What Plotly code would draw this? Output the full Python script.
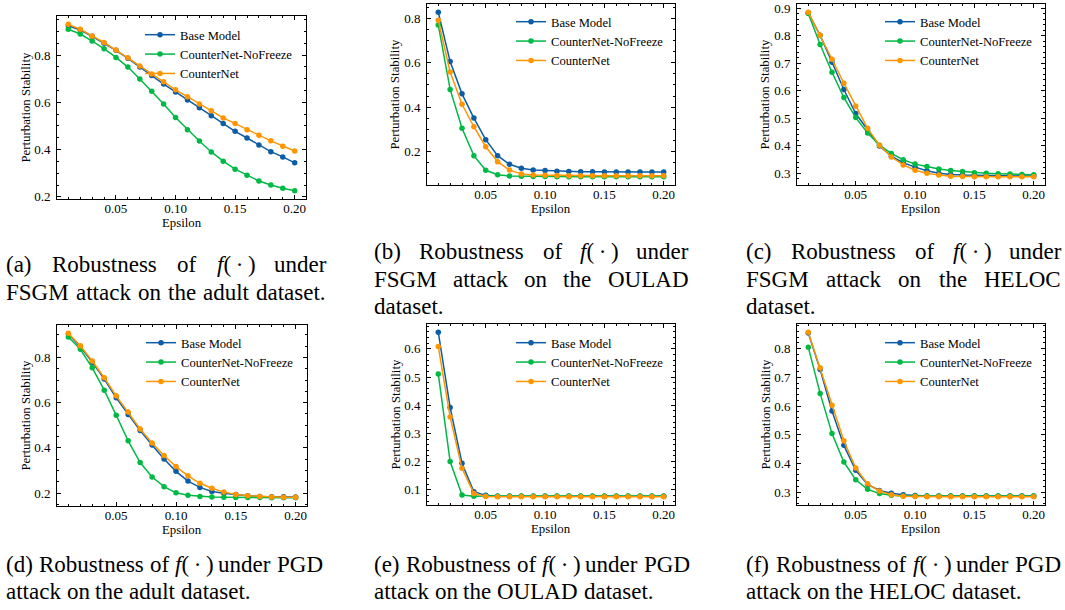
import plotly.graph_objects as go

W, H = 1065, 610

eps = [0.01, 0.02, 0.03, 0.04, 0.05, 0.06, 0.07, 0.08, 0.09, 0.10,
       0.11, 0.12, 0.13, 0.14, 0.15, 0.16, 0.17, 0.18, 0.19, 0.20]
series_names = ["Base Model", "CounterNet-NoFreeze", "CounterNet"]
colors = ["#0C5DA5", "#00B945", "#FF9500"]

# (a) FSGM, adult
a_base = [0.924, 0.906, 0.879, 0.850, 0.820, 0.786, 0.749, 0.713, 0.677, 0.644,
          0.610, 0.577, 0.543, 0.510, 0.477, 0.449, 0.419, 0.391, 0.369, 0.344]
a_nofreeze = [0.909, 0.889, 0.859, 0.827, 0.790, 0.749, 0.699, 0.647, 0.593, 0.536,
              0.484, 0.436, 0.390, 0.351, 0.317, 0.291, 0.267, 0.250, 0.236, 0.226]
a_cnet = [0.930, 0.909, 0.881, 0.853, 0.821, 0.789, 0.754, 0.720, 0.687, 0.653,
          0.624, 0.593, 0.564, 0.534, 0.510, 0.484, 0.461, 0.437, 0.414, 0.394]
# (b) FSGM, OULAD
b_base = [0.827, 0.605, 0.460, 0.351, 0.254, 0.182, 0.143, 0.125, 0.117, 0.115,
          0.112, 0.111, 0.110, 0.110, 0.109, 0.109, 0.109, 0.108, 0.108, 0.108]
b_nofreeze = [0.770, 0.480, 0.305, 0.182, 0.116, 0.096, 0.090, 0.089, 0.088, 0.088,
              0.087, 0.087, 0.087, 0.087, 0.087, 0.087, 0.087, 0.087, 0.087, 0.087]
b_cnet = [0.791, 0.558, 0.413, 0.312, 0.222, 0.155, 0.117, 0.100, 0.095, 0.094,
          0.093, 0.092, 0.092, 0.092, 0.092, 0.092, 0.092, 0.092, 0.092, 0.092]
# (c) FSGM, HELOC
c_base = [0.883, 0.801, 0.703, 0.604, 0.517, 0.457, 0.399, 0.362, 0.338, 0.322,
          0.309, 0.300, 0.295, 0.293, 0.292, 0.291, 0.290, 0.290, 0.290, 0.290]
c_nofreeze = [0.880, 0.768, 0.667, 0.575, 0.502, 0.446, 0.402, 0.372, 0.349, 0.333,
              0.324, 0.315, 0.310, 0.306, 0.302, 0.300, 0.298, 0.297, 0.295, 0.294]
c_cnet = [0.885, 0.801, 0.714, 0.627, 0.543, 0.463, 0.402, 0.359, 0.330, 0.311,
          0.300, 0.293, 0.289, 0.288, 0.287, 0.287, 0.287, 0.287, 0.287, 0.287]
# (d) PGD, adult
d_base = [0.904, 0.847, 0.779, 0.704, 0.621, 0.547, 0.477, 0.412, 0.351, 0.296,
          0.253, 0.225, 0.207, 0.199, 0.193, 0.188, 0.185, 0.184, 0.183, 0.182]
d_nofreeze = [0.890, 0.836, 0.754, 0.655, 0.544, 0.431, 0.335, 0.271, 0.228, 0.201,
              0.190, 0.185, 0.182, 0.181, 0.180, 0.180, 0.180, 0.179, 0.179, 0.179]
d_cnet = [0.907, 0.852, 0.784, 0.710, 0.630, 0.558, 0.483, 0.421, 0.366, 0.317,
          0.276, 0.243, 0.221, 0.204, 0.194, 0.188, 0.185, 0.182, 0.181, 0.181]
# (e) PGD, OULAD
e_base = [0.659, 0.392, 0.194, 0.093, 0.080, 0.077, 0.077, 0.077, 0.077, 0.077,
          0.077, 0.077, 0.077, 0.077, 0.077, 0.077, 0.077, 0.077, 0.077, 0.077]
e_nofreeze = [0.511, 0.200, 0.081, 0.077, 0.078, 0.078, 0.078, 0.078, 0.078, 0.078,
              0.078, 0.078, 0.078, 0.078, 0.078, 0.078, 0.078, 0.078, 0.078, 0.078]
e_cnet = [0.608, 0.358, 0.176, 0.087, 0.076, 0.075, 0.075, 0.075, 0.075, 0.075,
          0.075, 0.075, 0.075, 0.075, 0.075, 0.075, 0.075, 0.075, 0.075, 0.075]
# (f) PGD, HELOC
f_base = [0.854, 0.727, 0.583, 0.463, 0.376, 0.327, 0.306, 0.296, 0.291, 0.288,
          0.287, 0.287, 0.287, 0.287, 0.287, 0.287, 0.287, 0.287, 0.287, 0.287]
f_nofreeze = [0.805, 0.644, 0.504, 0.405, 0.343, 0.310, 0.295, 0.289, 0.287, 0.287,
              0.287, 0.287, 0.287, 0.287, 0.287, 0.287, 0.287, 0.287, 0.287, 0.287]
f_cnet = [0.857, 0.733, 0.603, 0.479, 0.384, 0.329, 0.304, 0.291, 0.286, 0.285,
          0.284, 0.284, 0.284, 0.284, 0.284, 0.284, 0.284, 0.284, 0.284, 0.284]

x_title = "Epsilon"
y_title = "Perturbation Stability"
x_ticks = [0.05, 0.10, 0.15, 0.20]

FONT = "Liberation Serif"

# panel layout in pixels: (left, right, top, bottom), y major step, y minor step,
# legend line start x / first-row y
panels = [
    dict(data=[a_base, a_nofreeze, a_cnet], box=(57, 306, 16, 199), dy=0.2, my=0.05, leg=(145, 33)),
    dict(data=[b_base, b_nofreeze, b_cnet], box=(427, 675, 4, 185), dy=0.2, my=0.05, leg=(516, 20)),
    dict(data=[c_base, c_nofreeze, c_cnet], box=(797, 1045, 4, 185), dy=0.1, my=0.02, leg=(885, 20)),
    dict(data=[d_base, d_nofreeze, d_cnet], box=(57, 307, 325, 506), dy=0.2, my=0.05, leg=(146, 341)),
    dict(data=[e_base, e_nofreeze, e_cnet], box=(427, 675, 324, 505), dy=0.1, my=0.02, leg=(516, 341)),
    dict(data=[f_base, f_nofreeze, f_cnet], box=(797, 1045, 324, 505), dy=0.1, my=0.02, leg=(885, 341)),
]

fig = go.Figure()
annotations = []

xmin, xmax = min(eps), max(eps)
xpad = 0.05 * (xmax - xmin)

for i, p in enumerate(panels):
    n = i + 1
    sfx = "" if n == 1 else str(n)
    legname = "legend" if n == 1 else f"legend{n}"
    l, r, t, b = p["box"]
    allv = [v for s in p["data"] for v in s]
    ymin, ymax = min(allv), max(allv)
    ypad = 0.05 * (ymax - ymin)
    for name, col, vals in zip(series_names, colors, p["data"]):
        fig.add_trace(go.Scatter(
            x=eps, y=vals, name=name, mode="lines+markers",
            line=dict(color=col, width=1.5),
            marker=dict(color=col, size=5.5, symbol="circle"),
            xaxis="x" + sfx, yaxis="y" + sfx, legend=legname,
        ))
    common = dict(
        showgrid=False, zeroline=False, showline=True, linecolor="black", linewidth=0.9,
        mirror="allticks", ticks="inside", ticklen=4.5, tickwidth=0.8, tickcolor="black",
        tickfont=dict(family=FONT, size=13, color="black"), automargin=False,
    )
    fig.update_layout({
        "xaxis" + sfx: dict(
            common, domain=[l / W, r / W], anchor="y" + sfx,
            range=[xmin - xpad, xmax + xpad], tickvals=x_ticks, tickformat=".2f",
            minor=dict(ticks="inside", ticklen=2.5, tickwidth=0.7, tickcolor="black",
                       dtick=0.01, tick0=0, showgrid=False),
            ticklabelstandoff=-3,
        ),
        "yaxis" + sfx: dict(
            common, domain=[1 - b / H, 1 - t / H], anchor="x" + sfx,
            range=[ymin - ypad, ymax + ypad], dtick=p["dy"], tick0=0, tickformat=".1f",
            minor=dict(ticks="inside", ticklen=2.5, tickwidth=0.7, tickcolor="black",
                       dtick=p["my"], tick0=0, showgrid=False),
            ticklabelstandoff=3,
        ),
        legname: dict(
            x=(p["leg"][0] - 5) / W, y=1 - (p["leg"][1] - 13) / H,
            xanchor="left", yanchor="top", bgcolor="rgba(0,0,0,0)",
            font=dict(family=FONT, size=12.6, color="black"),
            tracegroupgap=0, itemwidth=30,
        ),
    })
    # axis titles
    annotations.append(dict(
        text=x_title, x=(l + r) / 2 / W, y=1 - (b + 24) / H, xref="paper", yref="paper",
        xanchor="center", yanchor="middle", showarrow=False,
        font=dict(family=FONT, size=12.8, color="black")))
    annotations.append(dict(
        text=y_title, x=(l - 32) / W, y=1 - (t + b) / 2 / H, xref="paper", yref="paper",
        xanchor="center", yanchor="middle", showarrow=False, textangle=-90,
        font=dict(family=FONT, size=12.8, color="black")))

# ---- captions (justified lines built from words) ----
CW = {' ': 250, '(': 333, ')': 333, '.': 250, '-': 333, '·': 250,
      'a': 444, 'b': 500, 'c': 444, 'd': 500, 'e': 444, 'f': 333, 'g': 500, 'h': 500,
      'i': 278, 'j': 278, 'k': 500, 'l': 278, 'm': 778, 'n': 500, 'o': 500, 'p': 500,
      'q': 500, 'r': 333, 's': 389, 't': 278, 'u': 500, 'v': 500, 'w': 722, 'x': 500,
      'y': 500, 'z': 444, 'A': 722, 'B': 667, 'C': 667, 'D': 722, 'E': 611, 'F': 556,
      'G': 722, 'H': 722, 'I': 333, 'L': 611, 'M': 889, 'O': 722, 'P': 556, 'R': 667,
      'S': 556, 'U': 722}
CFS = 23
FWORD = "f(·)"


def word_html(w):
    if w == FWORD:
        return "<i>f</i>(\u2009·\u2009)"
    return w


def word_width(w):
    if w == FWORD:
        return (278 + 333 + 200 + 250 + 200 + 333) / 1000 * CFS
    return sum(CW.get(c, 500) for c in w) / 1000 * CFS


def add_line(text, x0, x1, yc, justify=True):
    words = text.split(" ")
    widths = [word_width(w) for w in words]
    if justify and len(words) > 1:
        gap = (x1 - x0 - sum(widths)) / (len(words) - 1)
    else:
        gap = CW[' '] / 1000 * CFS
    x = x0
    for w, wd in zip(words, widths):
        annotations.append(dict(
            text=word_html(w), x=x / W, y=1 - yc / H, xref="paper", yref="paper",
            xanchor="left", yanchor="middle", showarrow=False, borderpad=0,
            font=dict(family=FONT, size=CFS, color="black")))
        x += wd + gap


captions = [
    # (lines, left, right, first-line centre y)
    (["(a) Robustness of f(·) under", "FSGM attack on the adult dataset."], 5, 325, 265),
    (["(b) Robustness of f(·) under", "FSGM attack on the OULAD", "dataset."], 373, 687, 252),
    (["(c) Robustness of f(·) under", "FSGM attack on the HELOC", "dataset."], 745, 1060, 252),
    (["(d) Robustness of f(·) under PGD", "attack on the adult dataset."], 5, 322, 564),
    (["(e) Robustness of f(·) under PGD", "attack on the OULAD dataset."], 373, 689, 564),
    (["(f) Robustness of f(·) under PGD", "attack on the HELOC dataset."], 745, 1060, 564),
]
LS = 27
for lines, x0, x1, y0 in captions:
    for k, ln in enumerate(lines):
        last = k == len(lines) - 1
        nat = sum(word_width(w) for w in ln.split(" ")) + (len(ln.split(" ")) - 1) * CW[' '] / 1000 * CFS
        just = (not last) or nat > (x1 - x0) * 0.93
        add_line(ln, x0, x1, y0 + k * LS, justify=just)

fig.update_layout(
    width=W, height=H, margin=dict(l=0, r=0, t=0, b=0),
    paper_bgcolor="white", plot_bgcolor="white",
    font=dict(family=FONT, color="black"),
    annotations=annotations, showlegend=True,
)

fig.write_html(
    "out.html",
    config={"displayModeBar": False},
    post_script="document.body.style.margin='0';document.body.style.overflow='hidden';",
)
